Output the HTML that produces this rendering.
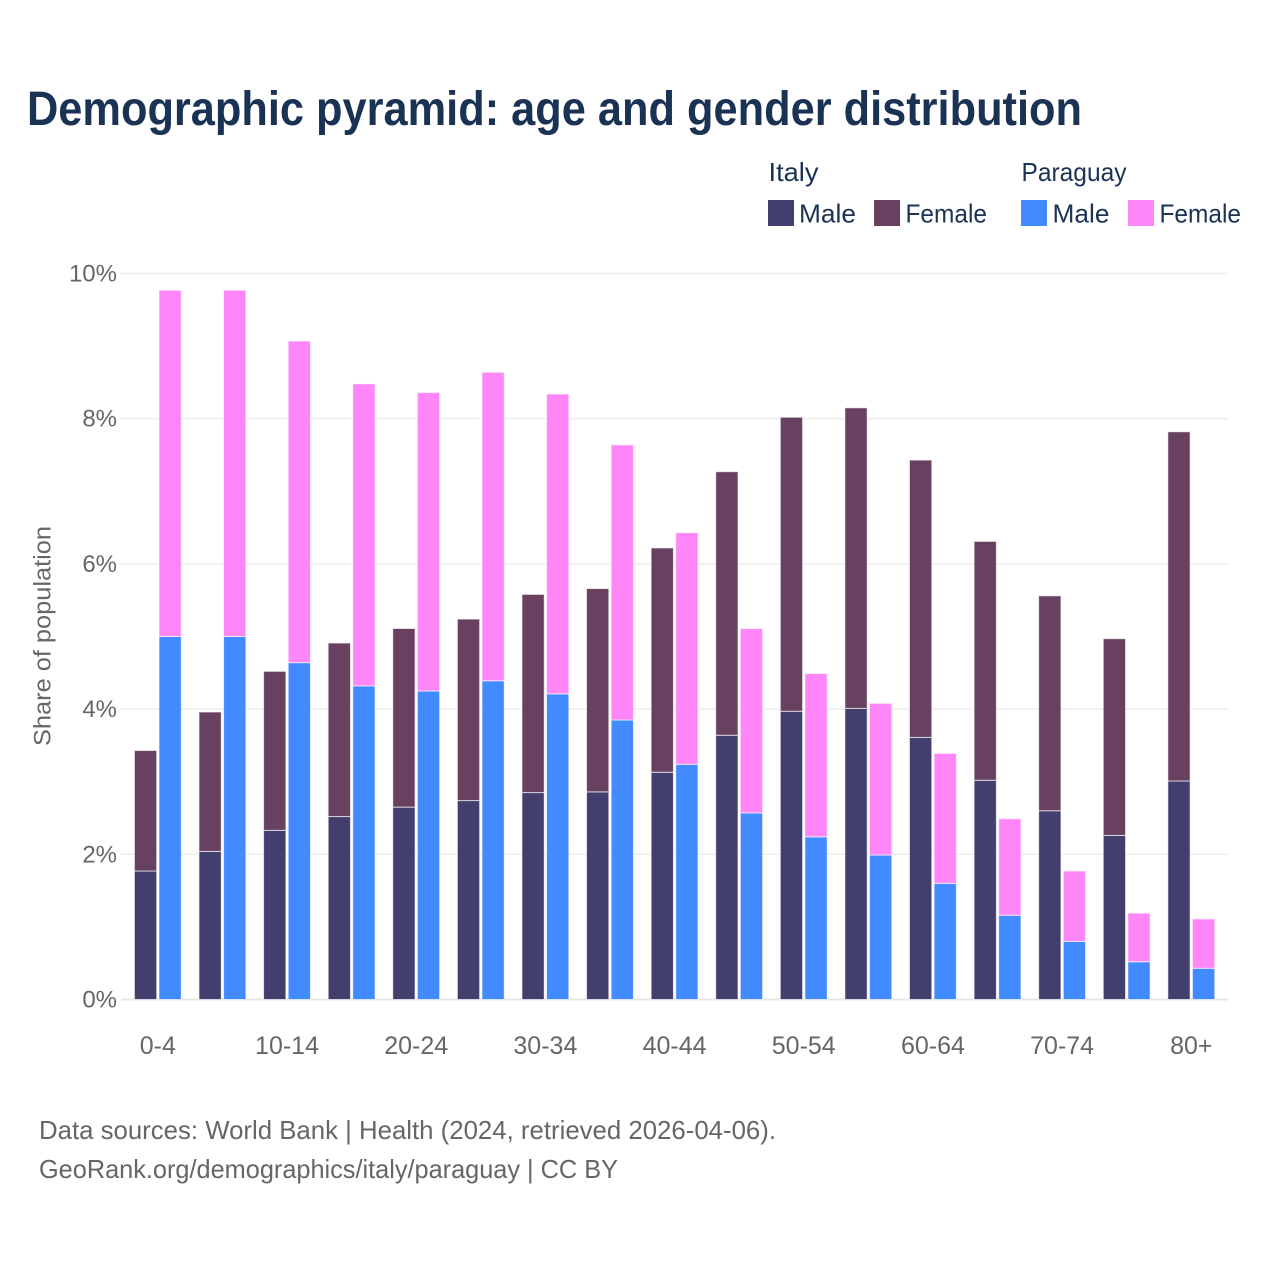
<!DOCTYPE html>
<html lang="en">
<head>
<meta charset="utf-8">
<title>Demographic pyramid: age and gender distribution</title>
<style>
  html, body { margin: 0; padding: 0; background: #fff; }
  svg { display: block; font-family: "Liberation Sans", sans-serif; }
  .legend-text { font-size: 26px; fill: #1a3254; }
  .tick { fill: #666; }
  .foot { font-size: 26px; fill: #666; }
</style>
</head>
<body>
<svg id="chart" xmlns="http://www.w3.org/2000/svg" width="1280" height="1280" viewBox="0 0 1280 1280">
  <rect x="0" y="0" width="1280" height="1280" fill="#ffffff"/>
  <text x="27" y="125" font-size="48" font-weight="700" fill="#1a3254" textLength="1055" lengthAdjust="spacingAndGlyphs">Demographic pyramid: age and gender distribution</text>

  <g>
    <text class="legend-text" x="768.5" y="181" textLength="50" lengthAdjust="spacingAndGlyphs">Italy</text>
    <text class="legend-text" x="1021.5" y="181" textLength="105" lengthAdjust="spacingAndGlyphs">Paraguay</text>
    <rect x="768" y="200" width="26" height="26" fill="#423f6f"/>
    <text class="legend-text" x="799" y="222.5" textLength="57" lengthAdjust="spacingAndGlyphs">Male</text>
    <rect x="874" y="200" width="26" height="26" fill="#684161"/>
    <text class="legend-text" x="905.5" y="222.5" textLength="81.5" lengthAdjust="spacingAndGlyphs">Female</text>
    <rect x="1021" y="200" width="26" height="26" fill="#418aff"/>
    <text class="legend-text" x="1052.5" y="222.5" textLength="57" lengthAdjust="spacingAndGlyphs">Male</text>
    <rect x="1128" y="200" width="26" height="26" fill="#ff86f8"/>
    <text class="legend-text" x="1159.5" y="222.5" textLength="81.5" lengthAdjust="spacingAndGlyphs">Female</text>
  </g>

  <g id="grid"></g>
  <g id="yticks"></g>
  <g id="bars"></g>
  <g id="xticks"></g>

  <text transform="translate(50.5,636) rotate(-90)" text-anchor="middle" font-size="24" fill="#666" textLength="220" lengthAdjust="spacingAndGlyphs">Share of population</text>

  <text class="foot" x="39" y="1139" textLength="737" lengthAdjust="spacingAndGlyphs">Data sources: World Bank | Health (2024, retrieved 2026-04-06).</text>
  <text class="foot" x="39" y="1178" textLength="579" lengthAdjust="spacingAndGlyphs">GeoRank.org/demographics/italy/paraguay | CC BY</text>
</svg>

<script>
const ageGroups = ["0-4","5-9","10-14","15-19","20-24","25-29","30-34","35-39","40-44","45-49","50-54","55-59","60-64","65-69","70-74","75-79","80+"];
const italyMale = [1.77,2.04,2.33,2.52,2.65,2.74,2.85,2.86,3.13,3.64,3.97,4.01,3.61,3.02,2.60,2.26,3.01];
const italyFemale = [1.66,1.92,2.19,2.39,2.46,2.50,2.73,2.80,3.09,3.63,4.05,4.14,3.82,3.29,2.96,2.71,4.81];
const paraguayMale = [5.00,5.00,4.64,4.32,4.25,4.39,4.21,3.85,3.24,2.57,2.24,1.99,1.60,1.16,0.80,0.52,0.43];
const paraguayFemale = [4.77,4.77,4.43,4.16,4.11,4.25,4.13,3.79,3.19,2.54,2.25,2.09,1.79,1.33,0.97,0.67,0.68];
const yTickValues = [0,2,4,6,8,10];
const yTickLabels = ["0%","2%","4%","6%","8%","10%"];

const NS = "http://www.w3.org/2000/svg";
const plotLeft = 121, plotRight = 1228;
const baseY = 999.5, pxPerUnit = 72.6;
const firstGroupX = 133.9, groupStep = 64.59, barW = 22.3, barGap = 2.3;

function yScale(v) { return baseY - v * pxPerUnit; }
function xBar(groupIndex, seriesIndex) { return firstGroupX + 0.5 + groupIndex * groupStep + seriesIndex * (barW + barGap); }
function xCenter(groupIndex) { return firstGroupX + groupIndex * groupStep + (2 * barW + barGap + 1) / 2; }

const grid = document.getElementById("grid");
const yticks = document.getElementById("yticks");
const bars = document.getElementById("bars");
const xticks = document.getElementById("xticks");

yTickValues.forEach(function (v, i) {
  const line = document.createElementNS(NS, "line");
  
  
  line.setAttribute("x1", plotLeft);
  line.setAttribute("x2", plotRight);
  line.setAttribute("y1", yScale(v));
  line.setAttribute("y2", yScale(v));
  line.setAttribute("stroke", v === 0 ? "#e6e6e6" : "#ececec");
  line.setAttribute("stroke-width", v === 0 ? 2 : 1.4);
  grid.appendChild(line);

  const t = document.createElementNS(NS, "text");
  
  
  t.setAttribute("class", "tick");
  t.setAttribute("x", 117);
  t.setAttribute("y", yScale(v) + 8);
  t.setAttribute("text-anchor", "end");
  t.setAttribute("font-size", 24);
  t.textContent = yTickLabels[i];
  yticks.appendChild(t);
});

function drawBar(groupIndex, seriesIndex, start, value, color) {
  const r = document.createElementNS(NS, "rect");
  
  
  r.setAttribute("x", xBar(groupIndex, seriesIndex));
  r.setAttribute("y", yScale(start + value));
  r.setAttribute("width", barW);
  r.setAttribute("height", yScale(start) - yScale(start + value));
  r.setAttribute("fill", color);
  r.setAttribute("stroke", "#ffffff");
  r.setAttribute("stroke-opacity", "0.65");
  r.setAttribute("stroke-width", 1);
  bars.appendChild(r);
}

ageGroups.forEach(function (label, i) {
  drawBar(i, 0, 0, italyMale[i], "#423f6f");
  drawBar(i, 0, italyMale[i], italyFemale[i], "#684161");
  drawBar(i, 1, 0, paraguayMale[i], "#418aff");
  drawBar(i, 1, paraguayMale[i], paraguayFemale[i], "#ff86f8");

  if (i % 2 === 0) {
    const t = document.createElementNS(NS, "text");
    
    
    t.setAttribute("class", "tick");
    t.setAttribute("x", xCenter(i));
    t.setAttribute("y", 1054);
    t.setAttribute("text-anchor", "middle");
    t.setAttribute("font-size", 25);
    t.textContent = label;
    xticks.appendChild(t);
  }
});
</script>
</body>
</html>
